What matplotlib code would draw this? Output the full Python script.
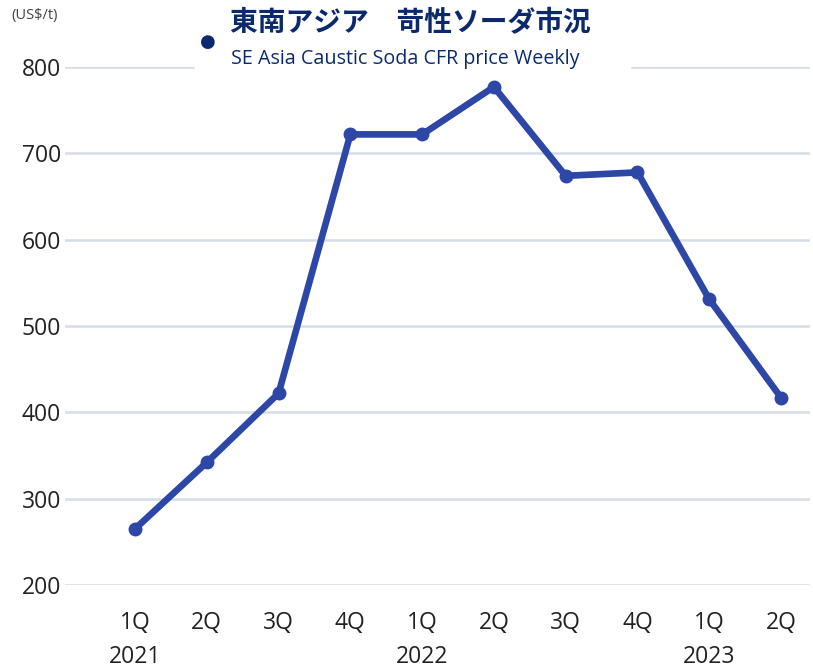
import matplotlib.pyplot as plt

quarters = ['1Q', '2Q', '3Q', '4Q', '1Q', '2Q', '3Q', '4Q', '1Q', '2Q']
years = ['2021', '2022', '2023']
year_pos = [0, 4, 8]  # index of the quarter each year label sits under
prices = [265, 342, 422, 722, 722, 777, 674, 678, 531, 417]

navy = '#0b2a6e'
line_blue = '#2d47a6'
grid_col = '#d5dde9'
label_col = '#222222'

plt.rcParams['font.family'] = ['Open Sans', 'DejaVu Sans']

fig = plt.figure(figsize=(8.13, 6.7), dpi=100)
ax = fig.add_axes([0.08, 0.1269, 0.916, 0.773])

x = list(range(len(prices)))
ax.plot(x, prices, color=line_blue, lw=4.8, marker='o', ms=9,
        solid_capstyle='round', clip_on=False, zorder=3)

ax.set_xlim(-0.975, 9.4)
ax.set_ylim(200, 800)
ax.set_yticks([200, 300, 400, 500, 600, 700, 800])
ax.yaxis.grid(True, color=grid_col, lw=1.8)
ax.set_axisbelow(True)
for s in ax.spines.values():
    s.set_visible(False)
ax.tick_params(axis='both', length=0, labelsize=16.5, colors=label_col)
ax.tick_params(axis='y', pad=3)
ax.tick_params(axis='x', pad=19)
ax.set_xticks(x)
ax.set_xticklabels(quarters)

for yr, p in zip(years, year_pos):
    ax.text(p, -0.139, yr, transform=ax.get_xaxis_transform(),
            ha='center', va='center', fontsize=16.5, color=label_col)

fig.text(35 / 813, 1 - 16 / 670, '(US$/t)', fontsize=10.5, color='#444444',
         ha='center', va='center')

# legend-style title block, white box hides the top gridline behind it
fig.patches.append(plt.Rectangle((195 / 813, 1 - 75 / 670), 435 / 813, 70 / 670,
                                 transform=fig.transFigure, color='white', zorder=2))
fig.text(208 / 813, 1 - 42 / 670, '●', fontsize=13, color=navy,
         ha='center', va='center', zorder=4)
fig.text(230 / 813, 1 - 23 / 670, '東南アジア　苛性ソーダ市況', fontsize=20,
         fontweight='bold', color=navy, ha='left', va='center',
         family=['Noto Sans CJK JP', 'DejaVu Sans'], zorder=4)
fig.text(231 / 813, 1 - 59 / 670, 'SE Asia Caustic Soda CFR price Weekly',
         fontsize=14.2, color=navy, ha='left', va='center', zorder=4)

fig.savefig('out.png', dpi=100)
